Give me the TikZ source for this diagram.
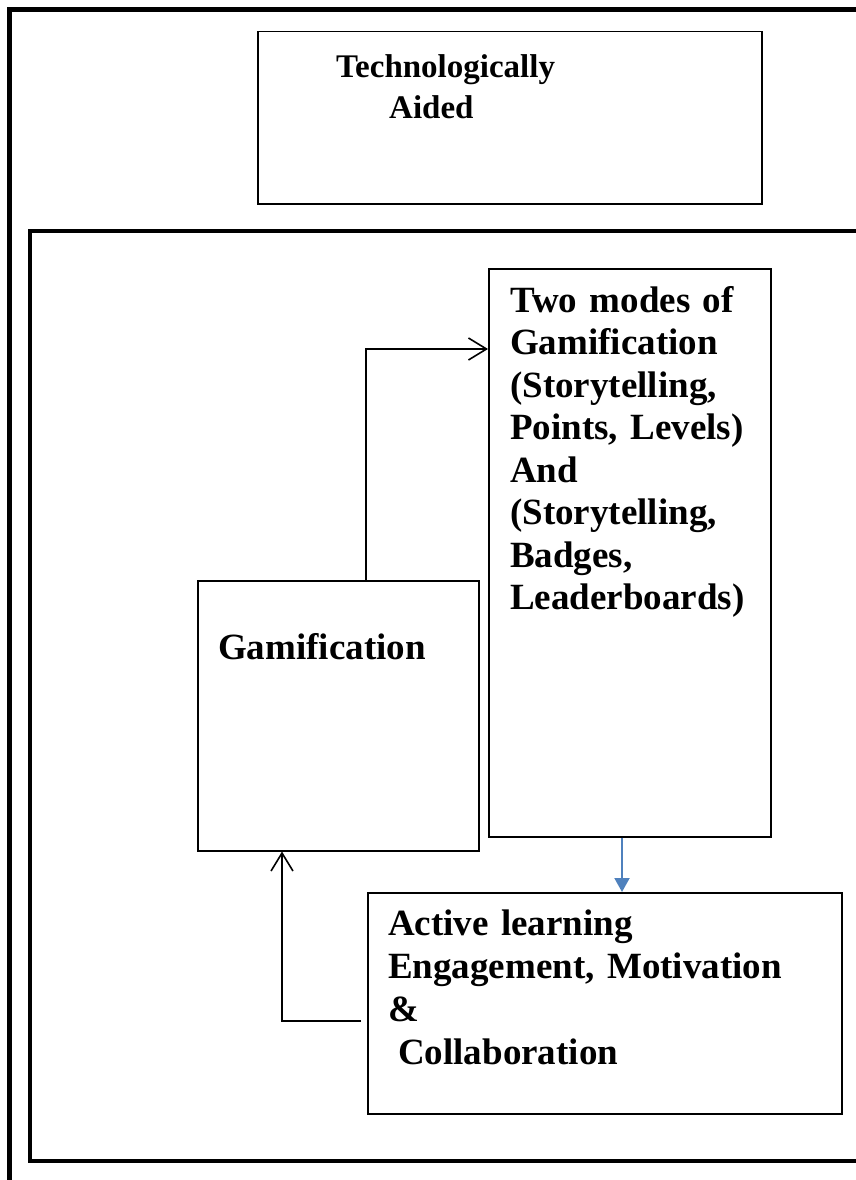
\documentclass[tikz,border=0pt]{standalone}
\usepackage{fontspec}
\setmainfont{Liberation Serif}
\usepackage{tikz}
\usetikzlibrary{positioning,arrows.meta}
\definecolor{arrowblue}{HTML}{4F81BD}

\begin{document}
\begin{tikzpicture}[x=1pt,y=-1pt,>={Straight Barb[length=18pt,width=22pt]},font=\bfseries]

\tikzstyle{box}=[draw=black,line width=1.5pt,rectangle,anchor=north west,inner sep=0pt]
\tikzstyle{frame}=[draw=black,line width=4.5pt]
\tikzstyle{txt}=[anchor=base west,inner sep=0pt,align=left,text width=470pt,font=\bfseries\fontsize{37}{42.5}\selectfont]
\tikzstyle{link}=[line width=1.6pt]

    \useasboundingbox (0,0) rectangle (856,1180);

    % outer and inner frames
    \draw[frame] (9.5,9.5) rectangle (900,1220);
    \draw[frame] (30,231) rectangle (900,1161);

    \node[box,minimum width=504pt,minimum height=172pt] (T) at (257,31) {};
    \node[box,minimum width=282pt,minimum height=568pt] (M) at (488,268) {};
    \node[box,minimum width=281pt,minimum height=270pt] (G) at (197,580) {};
    \node[box,minimum width=474pt,minimum height=221pt] (A) at (367,892) {};

    \node[txt,font=\bfseries\fontsize{33}{40}\selectfont] (Ttxt) at (336,78) {Technologically\\\hspace*{53pt}Aided};
    \node[txt] (Mtxt) at (510,312) {Two modes of\\Gamification\\(Storytelling,\\Points, Levels)\\And\\(Storytelling,\\Badges,\\Leaderboards)};
    \node[txt] (Gtxt) at (218,659) {Gamification};
    \node[txt,font=\bfseries\fontsize{37}{43.3}\selectfont] (Atxt) at (388,935) {Active learning\\Engagement, Motivation\\\&\\\hspace*{10pt}Collaboration};

    \coordinate (up) at (366,349);
    \coordinate (back) at (282,1021);
    \coordinate (down) at (622,0);

    \draw[link,->] (up |- G.north) -- (up) -- (up -| M.west);
    \draw[link,->] ([xshift=-6pt]A.west |- back) -- (back) -- (back |- G.south);
\path
    (down |- M.south) edge[-{Triangle[length=14pt,width=15pt]}, arrowblue, line width=2pt] (down |- A.north);
\end{tikzpicture}
\end{document}
